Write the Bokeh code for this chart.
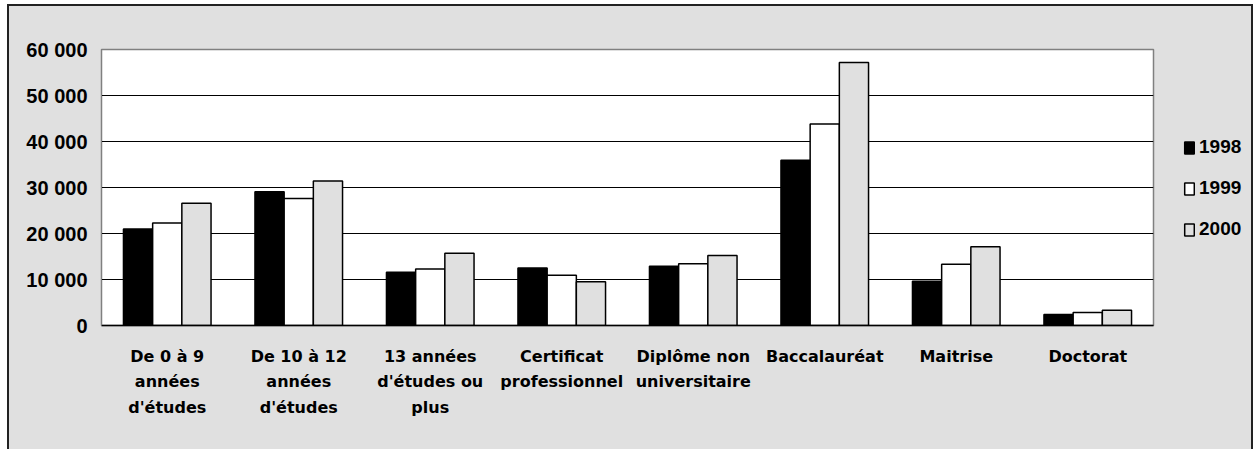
from bokeh.plotting import figure
from bokeh.models import ColumnDataSource, FixedTicker, Legend, LegendItem, Range1d, FactorRange
from bokeh.layouts import row
from bokeh.transform import dodge
from bokeh.embed import file_html
from bokeh.resources import INLINE

categories = ["De 0 à 9\nannées\nd'études", "De 10 à 12\nannées\nd'études",
              "13 années\nd'études ou\nplus", "Certificat\nprofessionnel",
              "Diplôme non\nuniversitaire", "Baccalauréat", "Maitrise", "Doctorat"]
years = ["1998", "1999", "2000"]
values_1998 = [21000, 29100, 11600, 12500, 12900, 35900, 9600, 2400]
values_1999 = [22300, 27600, 12300, 10900, 13400, 43800, 13300, 2800]
values_2000 = [26600, 31400, 15700, 9500, 15200, 57200, 17100, 3300]
y_ticks = [0, 10000, 20000, 30000, 40000, 50000, 60000]
y_tick_labels = ["0", "10 000", "20 000", "30 000", "40 000", "50 000", "60 000"]

BG = "#e0e0e0"
fills = ["black", "white", BG]
cols = ["y1998", "y1999", "y2000"]
offsets = [-0.222, 0.0, 0.222]

source = ColumnDataSource(dict(cat=categories, y1998=values_1998,
                               y1999=values_1999, y2000=values_2000))

p = figure(x_range=categories, y_range=(0, 60000), width=1148, height=443,
           output_backend="svg", toolbar_location=None,
           min_border_left=92, min_border_right=4, min_border_top=43,
           min_border_bottom=124)
p.border_fill_color = BG
p.background_fill_color = "white"
p.outline_line_color = "#808080"
p.outline_line_width = 1.5

for col, fc, off in zip(cols, fills, offsets):
    p.vbar(x=dodge("cat", off, range=p.x_range), top=col, width=0.222,
           source=source, fill_color=fc, line_color="black", line_width=1.5)

p.x_range.range_padding = 0
p.xgrid.grid_line_color = None
p.ygrid.ticker = FixedTicker(ticks=y_ticks)
p.ygrid.grid_line_color = "black"
p.ygrid.grid_line_width = 1

p.yaxis.ticker = FixedTicker(ticks=y_ticks)
p.yaxis.major_label_overrides = {t: l for t, l in zip(y_ticks, y_tick_labels)}
p.yaxis.major_tick_line_color = None
p.yaxis.minor_tick_line_color = None
p.yaxis.axis_line_color = "#808080"
p.yaxis.major_label_standoff = 8
p.yaxis.major_label_text_font = "Liberation Sans"
p.yaxis.major_label_text_font_style = "bold"
p.yaxis.major_label_text_font_size = "20px"
p.yaxis.major_label_text_color = "black"

p.xaxis.major_tick_line_color = None
p.xaxis.axis_line_color = "black"
p.xaxis.axis_line_width = 1.5
p.xaxis.major_label_standoff = 15
p.xaxis.major_label_text_font = "DejaVu Sans"
p.xaxis.major_label_text_font_style = "bold"
p.xaxis.major_label_text_font_size = "16px"
p.xaxis.major_label_text_line_height = 1.36
p.xaxis.major_label_text_color = "black"

# legend panel (its frame is aligned with the main frame by the row layout)
q = figure(width=94, height=443, output_backend="svg", toolbar_location=None,
           x_range=FactorRange(factors=categories), y_range=Range1d(0, 1),
           x_axis_type=None, y_axis_type=None,
           min_border_left=0, min_border_right=0, min_border_top=43, min_border_bottom=124)
q.border_fill_color = BG
q.background_fill_color = BG
q.outline_line_color = None
q.xgrid.grid_line_color = None
q.ygrid.grid_line_color = None
legend_renderers = [q.vbar(x="cat", top=col, width=0.222, source=source, visible=False,
                           fill_color=fc, line_color="black", line_width=1.5)
                    for col, fc in zip(cols, fills)]

legend = Legend(items=[LegendItem(label=y, renderers=[r])
                       for y, r in zip(years, legend_renderers)],
                location=(26, 85), orientation="vertical")
legend.border_line_color = None
legend.background_fill_alpha = 0
legend.inactive_fill_alpha = 0
legend.padding = 0
legend.margin = 0
legend.spacing = 19
legend.glyph_width = 12
legend.glyph_height = 15
legend.label_height = 20
legend.label_standoff = 4
legend.label_text_font = "Liberation Sans"
legend.label_text_font_style = "bold"
legend.label_text_font_size = "19px"
legend.label_text_color = "black"
q.add_layout(legend, "center")

lay = row(p, q)
lay.styles = {"margin-left": "7px", "margin-top": "4px", "background-color": BG,
              "border-left": "2px solid #222", "border-top": "2px solid #222",
              "border-right": "2px solid #222"}

open("out.html", "w").write(file_html(lay, INLINE))
